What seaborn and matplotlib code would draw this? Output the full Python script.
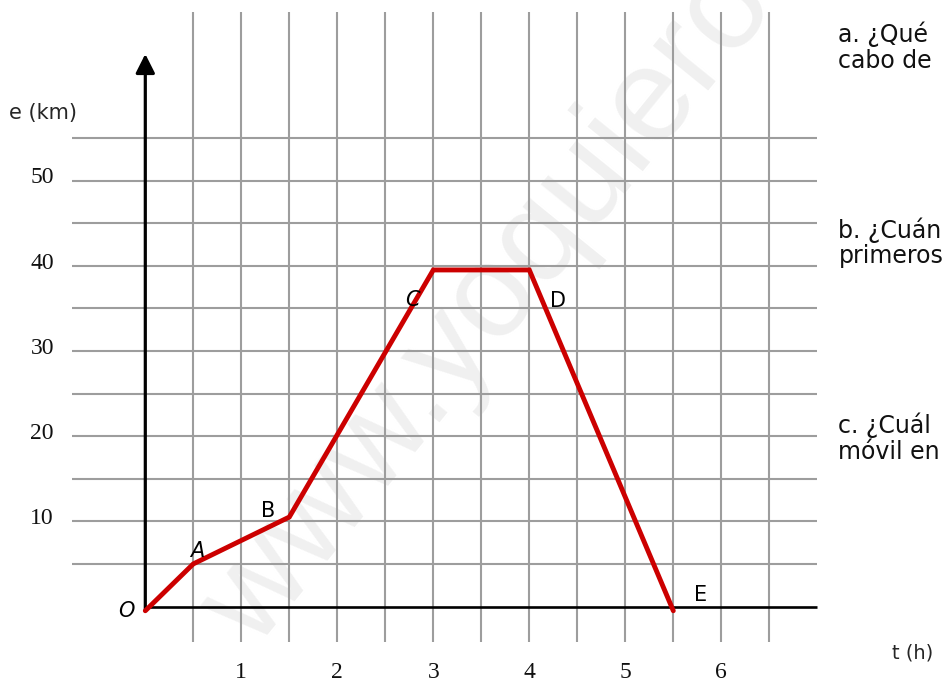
import matplotlib
matplotlib.use("Agg")
import matplotlib.pyplot as plt
import seaborn as sns
import pandas as pd

# ---- data ----
t_hours = [0, 0.5, 1.5, 3, 4, 5.5]
e_km = [-0.5, 5, 10.5, 39.5, 39.5, -0.5]
point_names = ["O", "A", "B", "C", "D", "E"]
point_label_t = [-0.20, 0.54, 1.28, 2.78, 4.30, 5.78]
point_label_e = [-0.5, 6.5, 11.2, 36.0, 35.9, 1.3]
point_italic = [True, True, False, True, False, False]

y_tick_values = [10, 20, 30, 40, 50]
x_tick_values = [1, 2, 3, 4, 5, 6]
grid_y = [5, 10, 15, 20, 25, 30, 35, 40, 45, 50, 55]
grid_x = [0.5, 1, 1.5, 2, 2.5, 3, 3.5, 4, 4.5, 5, 5.5, 6, 6.5]

question_lines = ["a. ¿Qué", "cabo de", "b. ¿Cuán", "primeros", "c. ¿Cuál", "móvil en"]
question_e = [66.2, 63.2, 43.3, 40.3, 20.4, 17.3]

sns.set_theme(style="white")
plt.rcParams["font.family"] = ["DejaVu Sans"]

W, H, DPI = 944, 681, 100
fig = plt.figure(figsize=(W / DPI, H / DPI), dpi=DPI)
ax = fig.add_axes([0, 0, 1, 1])
ax.set_axis_off()

# pixel mapping: t=0 at x=145.3, 96 px per hour; e=0 at y=606.5, 8.52 px per km
x0, sx = 145.3, 96.0
y0, sy = 606.5, 8.52
ax.set_xlim(-x0 / sx, (W - x0) / sx)
ax.set_ylim((y0 - H) / sy, y0 / sy)

# watermark
ax.text((255 - x0) / sx, (y0 - 650) / sy, "www.yoquiero", rotation=51,
        rotation_mode="anchor", ha="left", va="baseline", fontsize=96,
        family="Liberation Sans", color="#f0f0f0", zorder=0)

grid_color = "#9d9d9d"
ax.hlines(grid_y, -0.766, 7.0, color=grid_color, lw=1.5, zorder=1)
ax.vlines(grid_x, -4.2, 69.8, color=grid_color, lw=1.5, zorder=1)

# axes
ax.plot([0, 7.0], [0, 0], color="black", lw=1.9, solid_capstyle="butt", zorder=2)
ax.annotate("", xy=(0, 64.85), xytext=(0, -0.4),
            arrowprops=dict(arrowstyle="-|>,head_length=1.15,head_width=0.58",
                            mutation_scale=10, lw=2.3, color="black",
                            shrinkA=0, shrinkB=0), zorder=2)

df = pd.DataFrame({"t": t_hours, "e": e_km})
sns.lineplot(data=df, x="t", y="e", ax=ax, color="#cc0000", lw=3.5,
             sort=False, estimator=None, zorder=3)
ax.lines[-1].set_solid_joinstyle("miter")

for name, tx, ty, it in zip(point_names, point_label_t, point_label_e, point_italic):
    ax.text(tx, ty, name, ha="center", va="center", fontsize=15,
            style="italic" if it else "normal", color="black", zorder=4)

for v in y_tick_values:
    ax.text((54 - x0) / sx, v + 0.3, str(v), ha="right", va="center",
            fontsize=17, family="Liberation Serif", color="#111111")
for v in x_tick_values:
    ax.text(v, -7.7, str(v), ha="center", va="center",
            fontsize=17, family="Liberation Serif", color="#111111")

ax.text((43 - x0) / sx, (y0 - 113) / sy, "e (km)", ha="center", va="center", fontsize=15)
ax.text((912.5 - x0) / sx, (y0 - 653) / sy, "t (h)", ha="center", va="center", fontsize=14)

for line, ev in zip(question_lines, question_e):
    ax.text((838.5 - x0) / sx, ev, line, ha="left", va="baseline", fontsize=17,
            color="#111111")

fig.savefig("out.png", dpi=DPI)
